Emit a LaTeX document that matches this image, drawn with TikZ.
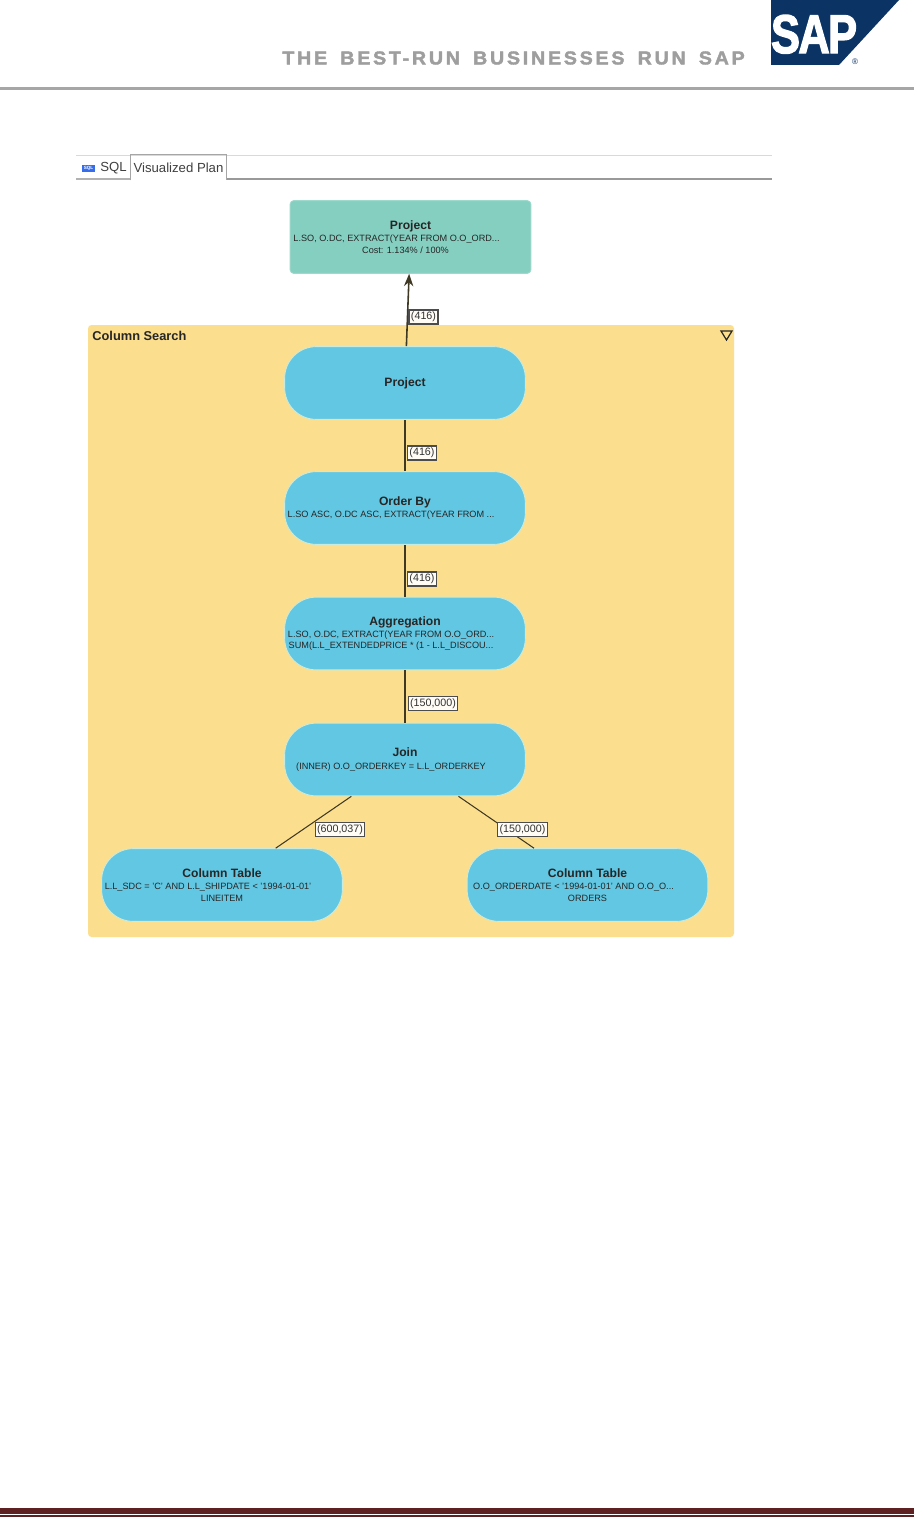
\documentclass[tikz,border=0pt]{standalone}
\usepackage{fontspec}
\usepackage{tikz}
\usetikzlibrary{arrows.meta,calc,positioning}
\setmainfont{Liberation Sans}
\newfontfamily\hdrfont[LetterSpace=14,WordSpace=1.6,FakeBold=2]{Liberation Sans Bold}
\newfontfamily\logofont[LetterSpace=-4,FakeBold=2.5]{Liberation Sans Bold}
\definecolor{sapblue}{HTML}{0B3364}
\definecolor{planblue}{HTML}{62C7E2}
\definecolor{planedge}{HTML}{C9EBDD}
\definecolor{plangreen}{HTML}{85CFC1}
\definecolor{planyellow}{HTML}{FCDF8E}
\definecolor{footred}{HTML}{5F2022}
\newcommand{\ttl}[1]{{\fontsize{6.9}{7.6}\selectfont\bfseries #1}}
\newcommand{\dtl}[1]{\hspace*{-15.9pt}#1}
\tikzset{
  opbox/.style={draw=planedge,fill=planblue,line width=0.5pt,rounded corners=18pt,align=center,minimum width=137pt,minimum height=41.4pt,inner sep=0pt,font=\fontsize{5.2}{6.5}\selectfont,text=black!85},
  topbox/.style={opbox,draw=plangreen!80!white,fill=plangreen,rounded corners=2pt},
  cntlabel/.style={draw=black!70,fill=white!92!planyellow,line width=0.7pt,inner sep=1.1pt,font=\fontsize{6.1}{7}\selectfont,text=black!80},
  flow/.style={draw=black!75!planyellow,line width=0.6pt}
}
\begin{document}
\begin{tikzpicture}[x=0.02cm,y=-0.02cm,>=Stealth]
\useasboundingbox (0,0) rectangle (914,1517);
\fill[white] (0,0) rectangle (914,1517);
\fill[sapblue] (771,0) -- (899,0) -- (839,65) -- (771,65) -- cycle;
\node[text=white,font=\fontsize{31}{31}\logofont,xscale=0.8,inner sep=0pt,text depth=0pt] (saplogo) at (814,34) {SAP};
\node[text=sapblue,font=\fontsize{4.6}{5}\selectfont,inner sep=0pt] (sapreg) at (855,61.5) {®};
\node[anchor=west,text=black!38,font=\fontsize{10.6}{12}\hdrfont,xscale=1.055,inner sep=0pt] (slogan) at (282,58) {THE BEST-RUN BUSINESSES RUN SAP};
\fill[black!35] (0,87) rectangle (914,90);
\fill[footred] (0,1508) rectangle (914,1514);
\fill[footred] (0,1515) rectangle (914,1517);
\draw[black!15,line width=0.5pt] (76,155) -- (772,155);
\draw[black!30,line width=0.8pt] (76,179) -- (131,179);
\draw[black!40,line width=0.8pt] (226,179) -- (772,179);
\node[minimum width=54pt,minimum height=14.2pt,inner sep=0pt,font=\fontsize{7.5}{9}\selectfont,text=black!75] (plantab) at (178.5,167.5) {Visualized Plan};
\draw[black!35,line width=0.5pt] (plantab.south west) -- (plantab.north west) -- (plantab.north east) -- (plantab.south east);
\node[font=\fontsize{7.5}{9}\selectfont,text=black!75,inner sep=0pt] (sqltab) at (113.5,168) {SQL};
\node[fill=blue!45!planblue,text=white,font=\fontsize{2.6}{3}\selectfont\bfseries,minimum width=7.5pt,minimum height=4.5pt,inner sep=0pt] (sqlicon) at (88.5,168.5) {SQL};
\fill[planyellow,rounded corners=2pt] (88,325) rectangle (734,937);
\node[anchor=west,font=\fontsize{7.3}{8}\selectfont\bfseries,text=black!85,inner sep=0pt] (search) at (92,336) {Column Search};
\draw[black!85,line width=0.7pt] (721,331) -- (732,331) -- (726.5,340) -- cycle;
\node[topbox] (top) at (410.5,237) {\ttl{Project}\\[0.6pt] \dtl{L.SO, O.DC, EXTRACT(YEAR FROM O.O\_ORD...}\\ \hspace*{-5.7pt}Cost: 1.134\% / 100\%};
\node[opbox] (proj) at (405,383) {\ttl{Project}};
\node[opbox] (order) at (405,508) {\ttl{Order By}\\[0.6pt] \dtl{L.SO ASC, O.DC ASC, EXTRACT(YEAR FROM ...}};
\node[opbox] (aggr) at (405,633.5) {\ttl{Aggregation}\\[0.6pt] \dtl{L.SO, O.DC, EXTRACT(YEAR FROM O.O\_ORD...}\\ \dtl{SUM(L.L\_EXTENDEDPRICE * (1 - L.L\_DISCOU...}};
\node[opbox] (join) at (405,759.5) {\ttl{Join}\\[0.6pt] \dtl{(INNER) O.O\_ORDERKEY = L.L\_ORDERKEY}};
\node[opbox] (ltab) at (222,885) {\ttl{Column Table}\\[0.6pt] \dtl{L.L\_SDC = 'C' AND L.L\_SHIPDATE < '1994-01-01'}\\ LINEITEM};
\node[opbox] (rtab) at (587.5,885) {\ttl{Column Table}\\[0.6pt] \dtl{O.O\_ORDERDATE < '1994-01-01' AND O.O\_O...}\\ ORDERS};
\draw[->,flow,line width=0.9pt] (proj) -- (top);
\draw[flow] (order) -- (proj);
\draw[flow] (aggr) -- (order);
\draw[flow] (join) -- (aggr);
\draw[flow] (ltab) -- (join);
\draw[flow] (rtab) -- (join);
\node[cntlabel] (c1) at (423.5,317) {(416)};
\node[cntlabel] (c2) at (422,453) {(416)};
\node[cntlabel] (c3) at (422,579) {(416)};
\node[cntlabel] (c4) at (433,703.5) {(150,000)};
\node[cntlabel] (c5) at (340,829.5) {(600,037)};
\node[cntlabel] (c6) at (522.5,829.5) {(150,000)};
\end{tikzpicture}
\end{document}
